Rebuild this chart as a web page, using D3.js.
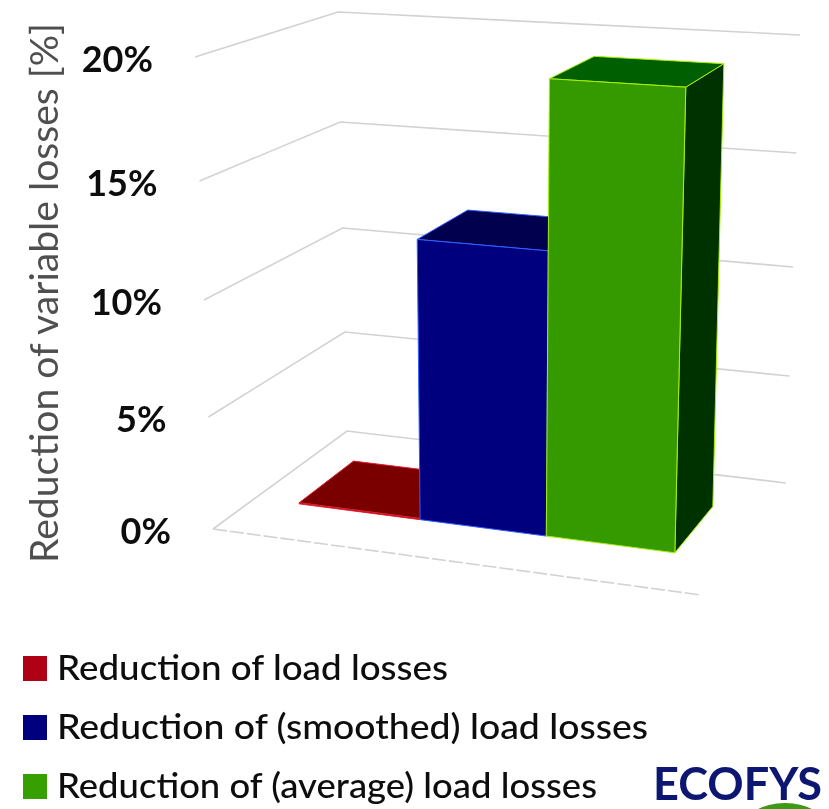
<!DOCTYPE html>
<html><head><meta charset="utf-8">
<script src="https://cdn.jsdelivr.net/npm/d3@7/dist/d3.min.js"></script>
<style>html,body{margin:0;padding:0;background:#fff}svg{display:block}text{font-family:Lato,"Open Sans",sans-serif}</style>
</head><body><svg id="c" width="829" height="809"></svg>
<script>
const categories = ["Reduction of load losses","Reduction of (smoothed) load losses","Reduction of (average) load losses"];
const values = [0.05, 12.3, 19.3];
const tickValues = [0,5,10,15,20];
const tickLabels = ["0%","5%","10%","15%","20%"];
const axisTitle = "Reduction of variable losses [%]";
const frontColors = ["#7a0000","#00007f","#369a00"];
const topColors = ["#7a0000","#00004f","#005f00"];
const sideColors = ["#4a0000","#000040","#003200"];
const edgeColors = ["#e02030","#3060ff","#a8f000"];
const legendColors = ["#b00012","#00007f","#36a000"];
const legendWidths = [391,591,540];

const svg = d3.select("#c");
const defs = svg.append("defs");
defs.append("filter").attr("id","soft").attr("x","-5%").attr("y","-5%").attr("width","110%").attr("height","110%")
  .append("feGaussianBlur").attr("stdDeviation",0.65);
defs.append("filter").attr("id","softer").attr("x","-5%").attr("y","-5%").attr("width","110%").attr("height","110%")
  .append("feGaussianBlur").attr("stdDeviation",0.6);

// Perspective box: each vertical corner of the chart box is a pair of value scales
const dom=[0,20];
const col = {
  fl:{x:d3.scaleLinear(dom,[213,195]),y:d3.scaleLinear(tickValues,[529,417,300,181,57])},
  bl:{x:d3.scaleLinear(dom,[347,338]),y:d3.scaleLinear(tickValues,[431,332,228,122,12])},
  br:{x:d3.scaleLinear(dom,[786,800]),y:d3.scaleLinear(tickValues,[483,376,267,153,35])},
  fr:{x:d3.scaleLinear(dom,[701,716]),y:d3.scaleLinear(tickValues,[595,475,350,223,90])}
};
const uScale = d3.scaleLinear([0,1,2,3],[.093,.349,.616,.888]);
const vScale = d3.scaleLinear([0,1],[.315,.735]);
function project(u,v,val){
  const m=k=>(1-v)*((1-u)*col.fl[k](val)+u*col.fr[k](val))+v*((1-u)*col.bl[k](val)+u*col.br[k](val));
  return [m("x"),m("y")];
}
const line=d3.line();

// gridlines
const grid=svg.append("g").attr("filter","url(#softer)").attr("fill","none").attr("stroke","#d2d2d2").attr("stroke-width",1.6);
grid.selectAll("path").data(tickValues).join("path")
  .attr("d",t=>line([project(0,0,t),project(0,1,t),project(1,1,t)]));
grid.append("path").attr("d",line([project(0,0,0),project(1,0,0)]))
  .attr("stroke-dasharray","14 3");

// bars
const bars=svg.append("g").attr("filter","url(#softer)");
categories.forEach((c,i)=>{
  const u0=uScale(i),u1=uScale(i+1),v0=vScale(0),v1=vScale(1),h=values[i];
  const g=bars.append("g").attr("stroke",edgeColors[i]).attr("stroke-width",1).attr("stroke-linejoin","round");
  g.append("path").attr("fill",sideColors[i]).attr("d",line([project(u1,v0,0),project(u1,v1,0),project(u1,v1,h),project(u1,v0,h)])+"Z");
  g.append("path").attr("fill",topColors[i]).attr("d",line([project(u0,v0,h),project(u1,v0,h),project(u1,v1,h),project(u0,v1,h)])+"Z");
  g.append("path").attr("fill",frontColors[i]).attr("d",line([project(u0,v0,0),project(u1,v0,0),project(u1,v0,h),project(u0,v0,h)])+"Z");
});

// tick labels
const texts=svg.append("g").attr("filter","url(#soft)");
texts.selectAll("text.tick").data(tickValues).join("text").attr("class","tick")
  .attr("x",t=>project(0,0,t)[0]-42)
  .attr("y",t=>project(0,0,t)[1]+15)
  .attr("text-anchor","end").attr("font-size",36).attr("font-weight",700).attr("fill","#111")
  .text((t,i)=>tickLabels[i]);

// axis title
texts.append("text").attr("transform","translate(58,563) rotate(-90)")
  .attr("font-size",38).attr("font-weight",400).attr("fill","#505050")
  .attr("textLength",540).attr("lengthAdjust","spacingAndGlyphs").text(axisTitle);

// legend
const legendY=d3.scalePoint().domain(categories).range([680,798]);
const lg=texts.selectAll("g.lg").data(categories).join("g").attr("class","lg");
lg.append("rect").attr("x",23).attr("y",c=>legendY(c)-24).attr("width",24).attr("height",25)
  .attr("fill",(c,i)=>legendColors[i]);
lg.append("text").attr("x",57).attr("y",c=>legendY(c)).attr("font-size",34).attr("font-weight",500).attr("fill","#0c0c0c")
  .attr("textLength",(c,i)=>legendWidths[i]).attr("lengthAdjust","spacingAndGlyphs").text(c=>c);

// logo
texts.append("ellipse").attr("cx",785).attr("cy",828).attr("rx",42).attr("ry",25).attr("fill","#3c9a14");
texts.append("text").attr("x",653).attr("y",800).attr("font-size",45).attr("font-weight",700).attr("fill","#0a1570")
  .attr("textLength",169).attr("lengthAdjust","spacingAndGlyphs").text("ECOFYS");
</script></body></html>
